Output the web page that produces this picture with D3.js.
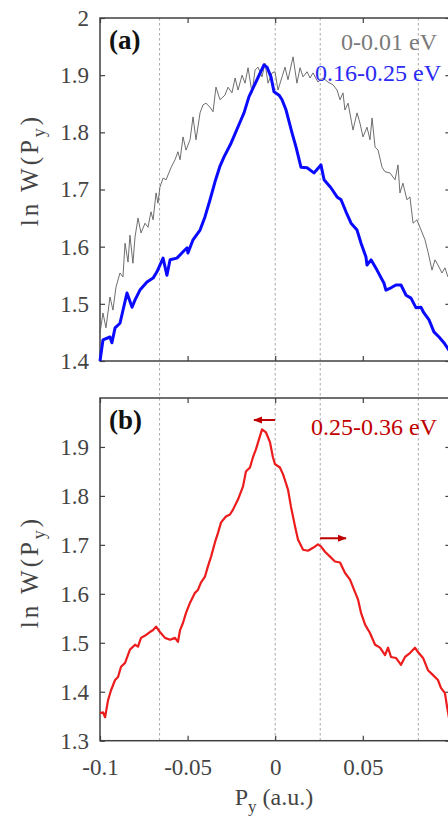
<!DOCTYPE html>
<html>
<head>
<meta charset="utf-8">
<script src="https://cdn.jsdelivr.net/npm/d3@7/dist/d3.min.js"></script>
<style>
  html, body { margin: 0; padding: 0; background: #fff; overflow: hidden; }
  svg { display: block; font-family: "Liberation Serif", "Times New Roman", serif; }
</style>
</head>
<body>
<script>
'use strict';

// ---- data ----
// panel (a), 0-0.01 eV (thin gray)
const grayPy = [-0.1000,-0.0983,-0.0966,-0.0943,-0.0926,-0.0909,-0.0886,-0.0869,-0.0857,-0.0840,
  -0.0829,-0.0812,-0.0800,-0.0783,-0.0766,-0.0743,-0.0726,-0.0709,-0.0697,-0.0680,
  -0.0669,-0.0658,-0.0640,-0.0623,-0.0595,-0.0572,-0.0555,-0.0543,-0.0526,-0.0509,
  -0.0486,-0.0469,-0.0452,-0.0429,-0.0412,-0.0395,-0.0372,-0.0355,-0.0338,-0.0315,
  -0.0287,-0.0269,-0.0247,-0.0229,-0.0212,-0.0189,-0.0172,-0.0155,-0.0132,-0.0115,
  -0.0098,-0.0075,-0.0058,-0.0041,-0.0018,-0.0001,0.0016,0.0039,0.0056,0.0073,
  0.0102,0.0124,0.0142,0.0159,0.0182,0.0199,0.0216,0.0244,0.0273,0.0301,
  0.0330,0.0353,0.0370,0.0387,0.0398,0.0416,0.0444,0.0467,0.0484,0.0501,
  0.0524,0.0541,0.0553,0.0570,0.0587,0.0610,0.0627,0.0655,0.0684,0.0701,
  0.0712,0.0729,0.0752,0.0769,0.0787,0.0809,0.0826,0.0855,0.0872,0.0895,
  0.0912,0.0929,0.0952,0.0969,0.0986];
const grayLnW = [1.449,1.484,1.458,1.512,1.489,1.529,1.554,1.547,1.606,1.573,
  1.620,1.571,1.617,1.650,1.624,1.641,1.634,1.661,1.647,1.694,
  1.676,1.704,1.720,1.717,1.738,1.752,1.766,1.752,1.792,1.769,
  1.787,1.827,1.787,1.834,1.848,1.851,1.844,1.836,1.879,1.857,
  1.865,1.879,1.869,1.895,1.874,1.900,1.886,1.913,1.869,1.909,
  1.914,1.897,1.921,1.886,1.904,1.906,1.874,1.897,1.914,1.892,
  1.932,1.886,1.913,1.897,1.906,1.895,1.904,1.888,1.895,1.888,
  1.883,1.874,1.857,1.869,1.839,1.851,1.804,1.834,1.816,1.792,
  1.809,1.787,1.825,1.774,1.769,1.739,1.731,1.729,1.717,1.743,
  1.694,1.711,1.682,1.687,1.641,1.647,1.634,1.612,1.591,1.559,
  1.577,1.568,1.554,1.563,1.547];

// panel (a), 0.16-0.25 eV (thick blue)
const bluePy = [-0.1000,-0.0983,-0.0943,-0.0932,-0.0914,-0.0886,-0.0846,-0.0817,-0.0800,-0.0772,
  -0.0732,-0.0697,-0.0675,-0.0640,-0.0618,-0.0600,-0.0561,-0.0526,-0.0503,-0.0498,
  -0.0469,-0.0429,-0.0401,-0.0372,-0.0344,-0.0315,-0.0292,-0.0252,-0.0195,-0.0178,
  -0.0150,-0.0104,-0.0064,-0.0047,-0.0024,-0.0007,0.0022,0.0039,0.0062,0.0096,
  0.0119,0.0147,0.0182,0.0221,0.0261,0.0279,0.0318,0.0353,0.0376,0.0404,
  0.0433,0.0467,0.0490,0.0518,0.0524,0.0547,0.0581,0.0621,0.0632,0.0661,
  0.0689,0.0718,0.0747,0.0775,0.0804,0.0832,0.0849,0.0878,0.0906,0.0935,
  0.0963,0.0998];
const blueLnW = [1.400,1.437,1.442,1.432,1.458,1.466,1.519,1.494,1.507,1.524,
  1.538,1.545,1.556,1.580,1.550,1.577,1.580,1.591,1.598,1.589,
  1.612,1.629,1.652,1.682,1.713,1.741,1.757,1.781,1.822,1.834,
  1.862,1.892,1.918,1.914,1.897,1.871,1.865,1.857,1.839,1.799,
  1.774,1.739,1.738,1.729,1.743,1.717,1.703,1.687,1.682,1.661,
  1.641,1.629,1.606,1.582,1.568,1.577,1.559,1.536,1.524,1.528,
  1.533,1.533,1.515,1.510,1.493,1.494,1.484,1.472,1.451,1.442,
  1.432,1.416];

// panel (b), 0.25-0.36 eV (red)
const redPy = [-0.1000,-0.0983,-0.0971,-0.0954,-0.0937,-0.0914,-0.0897,-0.0880,-0.0857,-0.0829,
  -0.0800,-0.0783,-0.0766,-0.0737,-0.0715,-0.0697,-0.0680,-0.0658,-0.0629,-0.0600,
  -0.0572,-0.0555,-0.0543,-0.0526,-0.0509,-0.0486,-0.0458,-0.0441,-0.0424,-0.0401,
  -0.0384,-0.0366,-0.0344,-0.0326,-0.0309,-0.0281,-0.0258,-0.0241,-0.0212,-0.0184,
  -0.0167,-0.0144,-0.0127,-0.0110,-0.0087,-0.0075,-0.0053,-0.0030,-0.0013,-0.0001,
  0.0027,0.0045,0.0073,0.0090,0.0113,0.0130,0.0159,0.0187,0.0216,0.0244,
  0.0261,0.0284,0.0313,0.0341,0.0370,0.0398,0.0427,0.0455,0.0473,0.0490,
  0.0513,0.0541,0.0570,0.0598,0.0627,0.0644,0.0661,0.0689,0.0718,0.0741,
  0.0769,0.0798,0.0815,0.0844,0.0872,0.0901,0.0929,0.0946,0.0969,0.0981,
  0.0992];
const redLnW = [1.356,1.358,1.348,1.383,1.403,1.424,1.430,1.451,1.459,1.486,
  1.496,1.492,1.510,1.516,1.522,1.526,1.533,1.522,1.510,1.506,
  1.510,1.502,1.526,1.541,1.561,1.582,1.602,1.608,1.623,1.635,
  1.656,1.676,1.705,1.725,1.746,1.758,1.762,1.772,1.793,1.819,
  1.850,1.858,1.879,1.895,1.922,1.936,1.930,1.910,1.879,1.865,
  1.858,1.844,1.813,1.778,1.738,1.711,1.690,1.688,1.694,1.701,
  1.697,1.686,1.676,1.666,1.664,1.643,1.629,1.604,1.588,1.561,
  1.537,1.520,1.496,1.490,1.475,1.490,1.471,1.469,1.455,1.471,
  1.479,1.490,1.481,1.469,1.444,1.434,1.424,1.408,1.397,1.369,
  1.346];

// axis ticks and markers
const xTicks = [-0.1, -0.05, 0, 0.05, 0.1];
const xTickLabels = [-0.1, -0.05, 0, 0.05];
const yTicksA = [1.4, 1.5, 1.6, 1.7, 1.8, 1.9, 2];
const yTicksB = [1.3, 1.4, 1.5, 1.6, 1.7, 1.8, 1.9];
const markerPy = [-0.066, 0, 0.0257, 0.0817];   // dotted guide lines
const arrowFrom = [-0.0001, 0.0256];
const arrowTo = [-0.0121, 0.0404];
const arrowLnW = [1.955, 1.7135];
const legendA = ["0-0.01 eV", "0.16-0.25 eV"];
const legendB = ["0.25-0.36 eV"];

window.onload = function() {
  const width = 448, height = 823;
  const svg = d3.select('body').append('svg')
    .attr('width', width)
    .attr('height', height);

  // arrow head
  svg.append('defs').append('marker')
    .attr('id', 'head')
    .attr('viewBox', '0 0 10 10')
    .attr('refX', 9).attr('refY', 5)
    .attr('markerWidth', 4.5).attr('markerHeight', 4.5)
    .attr('markerUnits', 'strokeWidth')
    .attr('orient', 'auto')
    .append('path')
    .attr('d', 'M0,1 L10,5 L0,9 Z')
    .attr('fill', '#c00000');

  const x = d3.scaleLinear().domain([-0.1, 0.1]).range([100, 450.4]);
  const yA = d3.scaleLinear().domain([1.4, 2]).range([361, 18]);
  const yB = d3.scaleLinear().domain([1.3, 2.0]).range([740.7, 398]);

  // dotted guides run through both panels
  svg.selectAll('.guide')
    .data(markerPy)
    .enter()
    .append('line')
    .attr('x1', d => x(d)).attr('x2', d => x(d))
    .attr('y1', yA(2)).attr('y2', yB(1.3))
    .attr('stroke', '#a8a8a8')
    .attr('stroke-width', 1)
    .attr('stroke-dasharray', '2.5,2.5');

  drawFrame(svg, x, yA, yTicksA, false);
  drawFrame(svg, x, yB, yTicksB, true);

  const lineA = d3.line().x(d => x(d[0])).y(d => yA(d[1]));
  const lineB = d3.line().x(d => x(d[0])).y(d => yB(d[1]));

  svg.append('path')
    .datum(d3.zip(grayPy, grayLnW))
    .attr('fill', 'none')
    .attr('stroke', '#5e5e5e')
    .attr('stroke-width', 0.9)
    .attr('stroke-linejoin', 'round')
    .attr('d', lineA);

  svg.append('path')
    .datum(d3.zip(bluePy, blueLnW))
    .attr('fill', 'none')
    .attr('stroke', '#0a0aff')
    .attr('stroke-width', 3)
    .attr('stroke-linejoin', 'round')
    .attr('d', lineA);

  svg.append('path')
    .datum(d3.zip(redPy, redLnW))
    .attr('fill', 'none')
    .attr('stroke', '#ec1c1c')
    .attr('stroke-width', 2.2)
    .attr('stroke-linejoin', 'round')
    .attr('d', lineB);

  // arrows in panel (b)
  svg.selectAll('.arrow')
    .data(d3.zip(arrowFrom, arrowTo, arrowLnW))
    .enter()
    .append('line')
    .attr('x1', d => x(d[0])).attr('x2', d => x(d[1]))
    .attr('y1', d => yB(d[2])).attr('y2', d => yB(d[2]))
    .attr('stroke', '#c00000')
    .attr('stroke-width', 2)
    .attr('marker-end', 'url(#head)');

  // legends
  svg.append('text')
    .attr('x', 437).attr('y', 50)
    .attr('text-anchor', 'end')
    .style('font-size', '24px')
    .attr('fill', '#7a7a7a')
    .text(legendA[0]);
  svg.append('text')
    .attr('x', 441).attr('y', 81)
    .attr('text-anchor', 'end')
    .style('font-size', '24px')
    .attr('fill', '#2a2af2')
    .text(legendA[1]);
  svg.append('text')
    .attr('x', 437).attr('y', 435)
    .attr('text-anchor', 'end')
    .style('font-size', '24px')
    .attr('fill', '#c00000')
    .text(legendB[0]);

  // panel letters
  svg.append('text')
    .attr('x', 109).attr('y', 49)
    .style('font-size', '27px')
    .style('font-weight', 'bold')
    .attr('fill', '#111')
    .text('(a)');
  svg.append('text')
    .attr('x', 109).attr('y', 429)
    .style('font-size', '27px')
    .style('font-weight', 'bold')
    .attr('fill', '#111')
    .text('(b)');

  yLabel(svg, 170);
  yLabel(svg, 572);

  // x label
  const xl = svg.append('text')
    .attr('x', 274).attr('y', 805)
    .attr('text-anchor', 'middle')
    .style('font-size', '24px')
    .attr('fill', '#444');
  xl.append('tspan').text('P');
  xl.append('tspan').attr('dy', 7).style('font-size', '17px').text('y');
  xl.append('tspan').attr('dy', -7).text(' (a.u.)');
};

// box with inward ticks on all four sides
function drawFrame(svg, x, y, yTicks, xLabels) {
  const left = x.range()[0], right = x.range()[1];
  const top = y.range()[1], bottom = y.range()[0];
  const fmt = d => d === 2 ? '2' : d.toFixed(1);

  const gl = svg.append('g')
    .attr('transform', `translate(${left},0)`)
    .call(d3.axisLeft(y).tickValues(yTicks).tickFormat(fmt)
      .tickSizeInner(-5).tickSizeOuter(0).tickPadding(11));
  styleAxis(gl);

  const gr = svg.append('g')
    .attr('transform', `translate(${right},0)`)
    .call(d3.axisRight(y).tickValues(yTicks).tickFormat('')
      .tickSizeInner(-5).tickSizeOuter(0));
  styleAxis(gr);

  const gt = svg.append('g')
    .attr('transform', `translate(0,${top})`)
    .call(d3.axisTop(x).tickValues(xTicks).tickFormat('')
      .tickSizeInner(-5).tickSizeOuter(0));
  styleAxis(gt);

  const gb = svg.append('g')
    .attr('transform', `translate(0,${bottom})`)
    .call(d3.axisBottom(x).tickValues(xTicks)
      .tickFormat(d => (xLabels && xTickLabels.includes(d)) ? String(d) : '')
      .tickSizeInner(-5).tickSizeOuter(0).tickPadding(18));
  styleAxis(gb);

  svg.append('rect')
    .attr('x', left).attr('y', top)
    .attr('width', right - left).attr('height', bottom - top)
    .attr('fill', 'none')
    .attr('stroke', '#404040')
    .attr('stroke-width', 1.5);
}

function styleAxis(g) {
  g.select('.domain').remove();
  g.selectAll('.tick line').attr('stroke', '#404040').attr('stroke-width', 1.2);
  g.selectAll('.tick text')
    .attr('fill', '#444')
    .style('font-family', '"Liberation Serif", "Times New Roman", serif')
    .style('font-size', '23px');
}

function yLabel(svg, cy) {
  const t = svg.append('text')
    .attr('transform', `translate(38,${cy}) rotate(-90)`)
    .attr('text-anchor', 'middle')
    .style('font-size', '25px')
    .style('letter-spacing', '3px')
    .attr('fill', '#444');
  t.append('tspan').text('ln W(P');
  t.append('tspan').attr('dy', 7).style('font-size', '18px').text('y');
  t.append('tspan').attr('dy', -7).text(')');
}
</script>
</body>
</html>
